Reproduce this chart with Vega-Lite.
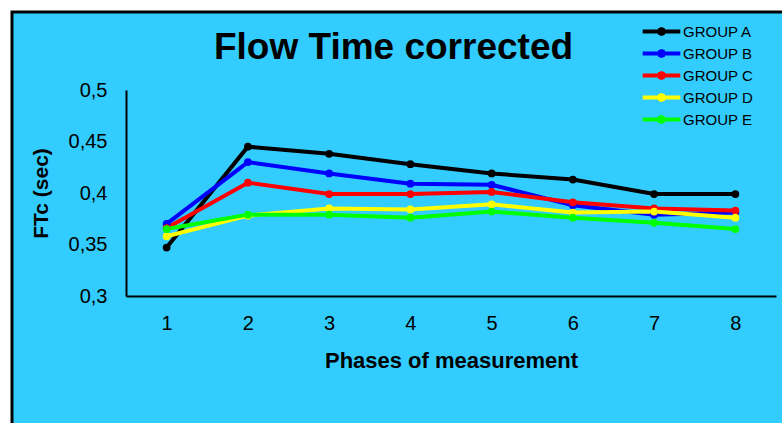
{
  "$schema": "https://vega.github.io/schema/vega-lite/v6.json",
  "width": 775,
  "height": 416,
  "autosize": "none",
  "padding": {"left": 12, "top": 12, "right": 0, "bottom": 0},
  "background": "white",
  "config": {
    "font": "Liberation Sans",
    "view": {"fill": "#33CCFF", "stroke": "black", "strokeWidth": 3},
    "axis": {"grid": false, "ticks": false, "domainColor": "black", "domainWidth": 2, "labelColor": "black", "titleColor": "black", "labelFont": "Liberation Sans", "titleFont": "Liberation Sans"}
  },
  "title": {
    "text": "Flow Time corrected",
    "fontSize": 37,
    "fontWeight": "bold",
    "font": "Liberation Sans",
    "color": "black",
    "anchor": "middle",
    "offset": 0,
    "baseline": "alphabetic",
    "dy": 84,
    "dx": -6
  },
  "data": {
    "values": [
      {"group": "GROUP A", "phase": 1, "value": 0.347},
      {"group": "GROUP A", "phase": 2, "value": 0.445},
      {"group": "GROUP A", "phase": 3, "value": 0.438},
      {"group": "GROUP A", "phase": 4, "value": 0.428},
      {"group": "GROUP A", "phase": 5, "value": 0.419},
      {"group": "GROUP A", "phase": 6, "value": 0.413},
      {"group": "GROUP A", "phase": 7, "value": 0.399},
      {"group": "GROUP A", "phase": 8, "value": 0.399},
      {"group": "GROUP B", "phase": 1, "value": 0.370},
      {"group": "GROUP B", "phase": 2, "value": 0.430},
      {"group": "GROUP B", "phase": 3, "value": 0.419},
      {"group": "GROUP B", "phase": 4, "value": 0.409},
      {"group": "GROUP B", "phase": 5, "value": 0.408},
      {"group": "GROUP B", "phase": 6, "value": 0.388},
      {"group": "GROUP B", "phase": 7, "value": 0.379},
      {"group": "GROUP B", "phase": 8, "value": 0.381},
      {"group": "GROUP C", "phase": 1, "value": 0.366},
      {"group": "GROUP C", "phase": 2, "value": 0.410},
      {"group": "GROUP C", "phase": 3, "value": 0.399},
      {"group": "GROUP C", "phase": 4, "value": 0.399},
      {"group": "GROUP C", "phase": 5, "value": 0.401},
      {"group": "GROUP C", "phase": 6, "value": 0.391},
      {"group": "GROUP C", "phase": 7, "value": 0.385},
      {"group": "GROUP C", "phase": 8, "value": 0.383},
      {"group": "GROUP D", "phase": 1, "value": 0.358},
      {"group": "GROUP D", "phase": 2, "value": 0.378},
      {"group": "GROUP D", "phase": 3, "value": 0.385},
      {"group": "GROUP D", "phase": 4, "value": 0.384},
      {"group": "GROUP D", "phase": 5, "value": 0.389},
      {"group": "GROUP D", "phase": 6, "value": 0.381},
      {"group": "GROUP D", "phase": 7, "value": 0.382},
      {"group": "GROUP D", "phase": 8, "value": 0.376},
      {"group": "GROUP E", "phase": 1, "value": 0.365},
      {"group": "GROUP E", "phase": 2, "value": 0.379},
      {"group": "GROUP E", "phase": 3, "value": 0.379},
      {"group": "GROUP E", "phase": 4, "value": 0.376},
      {"group": "GROUP E", "phase": 5, "value": 0.382},
      {"group": "GROUP E", "phase": 6, "value": 0.376},
      {"group": "GROUP E", "phase": 7, "value": 0.371},
      {"group": "GROUP E", "phase": 8, "value": 0.365}
    ]
  },
  "encoding": {
    "x": {
      "field": "phase",
      "type": "quantitative",
      "scale": {"domain": [0.5, 8.5], "range": [114, 764], "nice": false, "zero": false},
      "axis": {
        "values": [1, 2, 3, 4, 5, 6, 7, 8],
        "format": "d",
        "offset": -132,
        "labelFontSize": 20,
        "labelPadding": 17,
        "title": "Phases of measurement",
        "titleFontSize": 22,
        "titleFontWeight": "bold",
        "titlePadding": 17
      }
    },
    "y": {
      "field": "value",
      "type": "quantitative",
      "scale": {"domain": [0.3, 0.5], "range": [284, 78], "nice": false, "zero": false},
      "axis": {
        "values": [0.3, 0.35, 0.4, 0.45, 0.5],
        "labelExpr": "replace(format(datum.value, '.2~f'), '.', ',')",
        "offset": -114,
        "labelFontSize": 20,
        "labelPadding": 19,
        "title": "FTc (sec)",
        "titleFontSize": 21,
        "titleFontWeight": "bold",
        "titlePadding": 17
      }
    },
    "color": {
      "field": "group",
      "type": "nominal",
      "scale": {
        "domain": ["GROUP A", "GROUP B", "GROUP C", "GROUP D", "GROUP E"],
        "range": ["#000000", "#0000FF", "#FF0000", "#FFFF00", "#00FF00"]
      },
      "legend": {
        "title": null,
        "orient": "none",
        "legendX": 638,
        "legendY": 8,
        "padding": 0,
        "symbolType": "M-1.98,0H1.98M0.25,0L0.18,0.18L0,0.25L-0.18,0.18L-0.25,0L-0.18,-0.18L0,-0.25L0.18,-0.18Z",
        "symbolSize": 361,
        "symbolStrokeWidth": 4,
        "labelOffset": 10,
        "labelFontSize": 15,
        "labelFont": "Liberation Sans",
        "labelColor": "black",
        "rowPadding": 0
      }
    }
  },
  "layer": [
    {"mark": {"type": "line", "strokeWidth": 4}},
    {"mark": {"type": "point", "filled": true, "size": 60, "opacity": 1}}
  ]
}
